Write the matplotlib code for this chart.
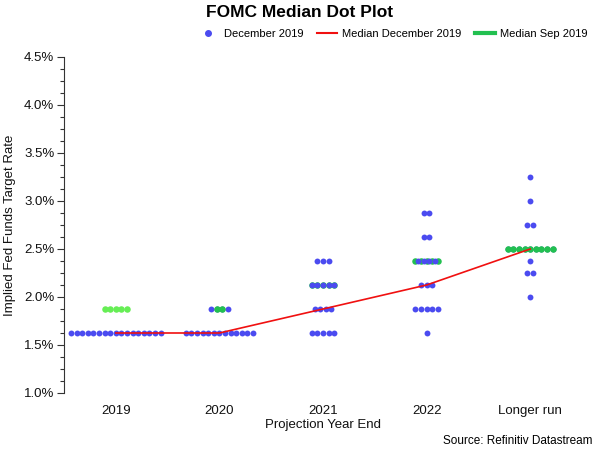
import numpy as np
import matplotlib
matplotlib.use("Agg")
import matplotlib.pyplot as plt
from matplotlib.lines import Line2D

plt.rcParams["font.family"] = ["Liberation Sans", "DejaVu Sans"]

categories = ["2019", "2020", "2021", "2022", "Longer run"]

# December 2019 projections: (rate level, number of participants) per category
dec_dots = [
    [(1.625, 17)],
    [(1.625, 13), (1.875, 4)],
    [(1.625, 5), (1.875, 4), (2.125, 5), (2.375, 3)],
    [(1.625, 1), (1.875, 5), (2.125, 3), (2.375, 4), (2.625, 2), (2.875, 2)],
    [(2.0, 1), (2.25, 2), (2.375, 1), (2.5, 9), (2.75, 2), (3.0, 1), (3.25, 1)],
]
median_dec = [1.625, 1.625, 1.875, 2.125, 2.5]

# September 2019 median row
sep_median = [1.875, 1.875, 2.125, 2.375, 2.5]
sep_count = [5, 2, 5, 5, 9]

blue = "#4b4bf0"
green = "#22c050"
dot_gap = 0.054


def spread(x0, n):
    return x0 + (np.arange(n) - (n - 1) / 2) * dot_gap


fig = plt.figure(figsize=(6, 4.63), dpi=100)
ax = fig.add_axes([0.1067, 0.1512, 0.8633, 0.7257])

for i, groups in enumerate(dec_dots):
    for level, n in groups:
        ax.scatter(spread(i, n), [level] * n, s=18, color=blue, linewidths=0, zorder=3)

# september median dots (on top where the row is short)
sep_colors = ["#66ee55", green, green, green, green]
sep_top = [True, True, False, False, True]
for i in range(len(categories)):
    n = sep_count[i]
    ax.scatter(spread(i, n), [sep_median[i]] * n, s=22, color=sep_colors[i],
               linewidths=0, zorder=4 if sep_top[i] else 2)

ax.plot(range(len(categories)), median_dec, color="#f01010", lw=1.2, zorder=5)

ax.set_xlim(-0.5, 4.5)
ax.set_ylim(1.0, 4.5)
ax.set_xticks(range(len(categories)))
ax.set_xticklabels(categories, fontsize=9.5, color="#111111")
ax.tick_params(axis="x", length=0, pad=9)
ax.set_yticks(np.arange(1.0, 4.51, 0.5))
ax.set_yticks(np.arange(1.0, 4.51, 0.125), minor=True)
ax.set_yticklabels([f"{v:.1f}%" for v in np.arange(1.0, 4.51, 0.5)], fontsize=9.5, color="#111111")
ax.tick_params(axis="y", which="major", length=5, width=0.8, color="#333333", pad=2)
ax.tick_params(axis="y", which="minor", length=3, width=0.8, color="#333333")
for side in ["top", "right", "bottom"]:
    ax.spines[side].set_visible(False)
ax.spines["left"].set_color("#333333")
ax.spines["left"].set_linewidth(0.8)

ax.set_xlabel("Projection Year End", fontsize=9.5, color="#111111", labelpad=1)
ax.set_ylabel("Implied Fed Funds Target Rate", fontsize=9.5, color="#111111", labelpad=6)

fig.text(0.5, 0.972, "FOMC Median Dot Plot", ha="center", va="center",
         fontsize=12.5, fontweight="bold")

handles = [
    Line2D([], [], marker="o", ls="none", color=blue, markersize=4),
    Line2D([], [], color="#f01010", lw=1.5),
    Line2D([], [], color=green, lw=3),
]
fig.legend(handles, ["December 2019", "Median December 2019", "Median Sep 2019"],
           loc="center", bbox_to_anchor=(0.655, 0.926), ncol=3, frameon=False,
           fontsize=8, handlelength=1.8, columnspacing=1.2, handletextpad=0.5)

fig.text(0.987, 0.048, "Source: Refinitiv Datastream", ha="right", va="center", fontsize=8.5)

fig.savefig("out.png", dpi=100)
